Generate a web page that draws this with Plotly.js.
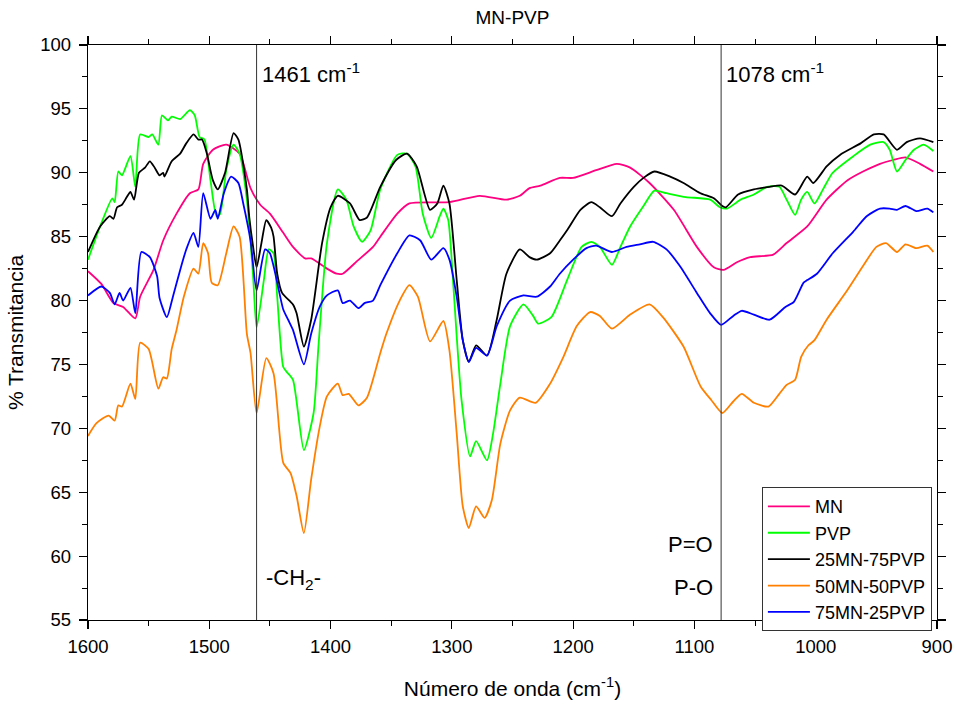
<!DOCTYPE html>
<html>
<head>
<meta charset="utf-8">
<script src="https://cdn.plot.ly/plotly-3.0.1.min.js"></script>
<style>html,body{margin:0;padding:0;background:#fff;}#chart{width:958px;height:704px;}</style>
</head>
<body>
<div id="chart"></div>
<script>
// ---- Data (wavenumber cm-1, % transmittance) ----
const seriesNames = ["MN", "PVP", "25MN-75PVP", "50MN-50PVP", "75MN-25PVP"];
const seriesColors = ["#ff0080", "#00ff00", "#000000", "#ff8000", "#0000ff"];

const mnX = [1600,1589,1579,1571,1561,1557,1546,1538,1527,1516,1509,1505,1497,1486,1475,1466,1458,1450,1439,1431,1421,1416,1403,1395,1390,1378,1365,1359,1345,1335,1302,1277,1255,1244,1236,1227,1211,1200,1181,1164,1153,1137,1117,1098,1084,1076,1065,1054,1035,1024,1007,991,974,961,947,936,926,914,903];
const mnY = [82.3,81.3,79.8,79.5,78.6,80.3,82.4,84.7,86.8,88.4,88.7,90.7,91.8,92.2,91.5,88.8,87.5,86.8,85.3,84.2,83.3,83.3,82.5,82.1,82.1,83.1,84.2,85.0,86.8,87.6,87.7,88.2,87.9,88.2,88.8,89.0,89.6,89.6,90.2,90.7,90.4,89.2,87.1,84.2,82.6,82.4,83.0,83.4,83.6,84.5,85.8,87.9,89.4,90.1,90.7,91.0,91.2,90.7,90.1];

const pvpX = [1600,1590,1580,1578,1575,1572,1565,1561,1557,1550,1547,1542,1539,1534,1531,1524,1516,1512,1508,1504,1499,1494,1491,1486,1480,1475,1469,1464,1461,1455,1451,1447,1444,1439,1436,1431,1422,1414,1410,1403,1394,1387,1381,1374,1367,1359,1345,1337,1330,1324,1317,1310,1307,1303,1299,1296,1292,1285,1280,1271,1266,1260,1252,1241,1233,1229,1218,1205,1193,1185,1178,1168,1161,1153,1142,1133,1123,1107,1087,1079,1073,1065,1062,1051,1040,1030,1024,1017,1012,1007,1001,994,986,969,955,944,939,933,926,919,911,903];
const pvpY = [83.2,85.8,88.0,87.7,90.1,89.8,91.3,88.9,93.0,92.8,93.0,92.2,94.5,94.1,94.4,94.2,94.9,94.5,92.8,92.6,89.4,86.6,86.8,90.2,92.2,91.5,87.9,82.1,77.9,81.6,84.0,83.7,80.3,74.8,74.4,73.8,68.3,71.2,76.4,84.5,88.7,87.9,85.8,84.6,85.5,88.7,91.4,91.5,90.5,86.8,84.9,86.6,87.2,86.3,81.5,77.2,72.2,67.8,69.0,67.5,69.6,73.5,78.0,79.7,78.8,78.2,78.7,81.6,84.2,84.6,84.2,82.8,84.2,85.8,87.4,88.6,88.4,88.1,87.9,87.3,87.2,87.7,87.9,88.3,88.9,88.9,87.9,86.7,87.9,88.5,87.6,88.7,90.0,91.3,92.2,92.4,91.8,90.1,91.0,91.8,92.2,91.7];

const m25X = [1600,1590,1582,1579,1576,1572,1568,1565,1562,1558,1553,1549,1545,1541,1538,1537,1531,1524,1519,1513,1509,1506,1502,1497,1493,1487,1480,1476,1469,1467,1464,1461,1457,1453,1449,1447,1444,1440,1433,1431,1428,1422,1416,1407,1400,1394,1384,1376,1370,1359,1346,1337,1329,1318,1312,1307,1302,1296,1291,1286,1280,1271,1263,1255,1244,1236,1230,1219,1211,1205,1194,1185,1178,1168,1161,1150,1142,1133,1120,1109,1095,1084,1077,1074,1064,1051,1038,1028,1017,1007,1002,991,980,963,952,944,933,925,914,903];
const m25Y = [83.8,85.8,86.6,86.4,87.3,87.5,88.1,88.5,87.9,90.0,90.4,90.9,90.4,89.8,90.0,89.7,90.9,91.5,92.3,93.0,92.6,92.6,91.5,89.4,88.7,90.0,93.1,92.6,88.7,86.5,84.3,82.6,84.5,86.3,85.7,85.0,82.1,80.6,79.9,79.7,79.0,76.4,78.5,84.5,87.3,88.2,87.6,86.3,86.5,88.9,91.0,91.5,90.5,87.1,87.6,89.0,87.6,81.6,76.9,75.2,76.5,75.7,78.5,82.1,84.0,83.4,83.2,83.7,84.7,85.5,87.1,87.7,87.3,86.6,87.6,88.9,89.6,90.1,89.7,89.2,88.4,88.0,87.4,87.3,88.3,88.7,88.9,89.0,88.3,89.7,89.2,90.5,91.4,92.3,93.0,93.0,91.8,92.4,92.7,92.4];

const m50X = [1600,1593,1583,1578,1575,1572,1565,1561,1557,1550,1542,1538,1535,1531,1527,1521,1513,1509,1505,1501,1498,1493,1486,1480,1475,1469,1466,1461,1453,1447,1439,1433,1428,1422,1416,1409,1403,1394,1390,1385,1377,1370,1359,1354,1343,1335,1328,1318,1307,1302,1296,1291,1286,1280,1273,1267,1260,1252,1244,1231,1219,1208,1197,1186,1178,1168,1153,1137,1126,1109,1095,1086,1077,1068,1061,1051,1039,1030,1024,1017,1012,1006,1001,991,974,961,950,942,933,926,917,908,903];
const m50Y = [69.4,70.4,71.0,70.6,71.8,71.7,73.5,72.3,76.7,76.2,73.1,74.0,73.9,76.2,77.7,80.3,82.5,82.1,84.5,83.7,81.4,81.2,83.7,85.8,85.0,77.4,75.9,71.2,75.5,74.3,67.3,66.5,64.7,61.8,66.0,70.1,72.5,73.5,72.6,72.7,71.8,72.4,75.9,77.4,80.0,81.2,80.3,76.8,78.4,76.1,69.6,63.9,62.2,63.9,63.0,64.4,68.8,71.4,72.4,72.0,73.5,75.6,78.0,79.1,78.8,77.8,78.9,79.7,78.7,76.4,73.3,72.2,71.2,72.1,72.7,72.0,71.7,72.7,73.4,73.8,75.6,76.5,76.9,78.5,80.8,82.7,84.2,84.5,83.8,84.4,84.1,84.3,83.8];

const m75X = [1600,1589,1582,1578,1574,1571,1565,1561,1556,1549,1543,1541,1535,1530,1524,1519,1513,1509,1505,1499,1495,1493,1488,1482,1476,1472,1466,1461,1454,1450,1439,1435,1431,1422,1416,1409,1403,1394,1390,1384,1377,1372,1365,1359,1345,1335,1326,1317,1307,1302,1296,1291,1286,1280,1271,1263,1252,1241,1230,1219,1211,1200,1189,1181,1168,1156,1145,1134,1123,1112,1098,1087,1078,1068,1061,1051,1038,1025,1018,1010,1007,999,986,969,958,947,939,933,926,917,908,903];
const m75Y = [80.4,81.1,80.6,79.7,80.6,80.0,81.0,79.0,83.8,83.4,81.9,80.2,78.7,80.3,82.4,84.0,85.3,84.2,88.4,86.4,87.1,86.4,88.4,89.7,89.2,87.6,84.7,80.8,84.0,83.7,79.3,78.5,77.7,75.0,77.4,79.5,80.4,80.8,79.8,80.0,79.4,79.8,80.0,81.2,83.7,85.1,84.7,83.2,84.1,83.2,80.3,76.9,75.2,76.3,75.7,78.0,80.0,80.4,80.3,81.1,82.1,83.2,84.1,84.3,83.8,84.2,84.4,84.6,84.0,82.7,80.6,79.0,78.1,78.8,79.2,78.9,78.5,79.5,79.9,81.4,81.6,82.1,83.7,85.4,86.6,87.2,87.2,87.1,87.4,87.0,87.2,86.9];

const xTickVals = [1600,1500,1400,1300,1200,1100,1000,900];
const yTickVals = [55,60,65,70,75,80,85,90,95,100];
const markerLines = [1461, 1078];

const xs = [mnX, pvpX, m25X, m50X, m75X];
const ys = [mnY, pvpY, m25Y, m50Y, m75Y];

const FONT = "Liberation Sans, Arial, sans-serif";

const traces = seriesNames.map((n, i) => ({
  type: "scatter", mode: "lines", name: n,
  x: xs[i], y: ys[i],
  line: {color: seriesColors[i], width: 1.8, shape: "spline", smoothing: 0.6}
}));

const axisCommon = {
  showline: true, linecolor: "#000", linewidth: 1.2, mirror: "allticks",
  ticks: "outside", ticklen: 8, tickwidth: 1.2, tickcolor: "#000",
  showgrid: false, zeroline: false,
  tickfont: {family: FONT, size: 18.5, color: "#000"},
  minor: {ticks: "outside", ticklen: 5, tickwidth: 1, tickcolor: "#000", showgrid: false}
};

const layout = {
  width: 958, height: 704,
  margin: {l: 88, r: 21, t: 45, b: 84},
  paper_bgcolor: "#fff", plot_bgcolor: "#fff",
  font: {family: FONT, color: "#000"},
  title: {text: "MN-PVP", font: {family: FONT, size: 19, color: "#000"}, xref: "paper", x: 0.5, xanchor: "center", y: 0.976, yanchor: "middle"},
  xaxis: Object.assign({}, axisCommon, {
    range: [1600, 900], tickvals: xTickVals, ticktext: xTickVals.map(String),
    ticklabelstandoff: 2,
    minor: Object.assign({}, axisCommon.minor, {dtick: 50, tick0: 0}),
    title: {text: "Número de onda (cm<sup>-1</sup>)", font: {family: FONT, size: 21, color: "#000"}, standoff: 24}
  }),
  yaxis: Object.assign({}, axisCommon, {
    range: [55, 100], tickvals: yTickVals, ticktext: yTickVals.map(String),
    ticklabelstandoff: 4,
    minor: Object.assign({}, axisCommon.minor, {dtick: 2.5, tick0: 0}),
    title: {text: "% Transmitancia", font: {family: FONT, size: 21, color: "#000"}, standoff: 10}
  }),
  showlegend: true,
  legend: {
    x: 0.994, xanchor: "right", y: 0.231, yanchor: "top",
    bgcolor: "#fff", bordercolor: "#333", borderwidth: 1,
    font: {family: FONT, size: 18, color: "#000"},
    traceorder: "normal", itemwidth: 42
  },
  shapes: markerLines.map(v => ({
    type: "line", xref: "x", yref: "paper", x0: v, x1: v, y0: 0, y1: 1,
    line: {color: "#333", width: 1}
  })),
  annotations: [
    {text: "1461 cm<sup>-1</sup>", xref: "x", yref: "paper", x: 1461, y: 0.951, xanchor: "left", yanchor: "middle", xshift: 3, showarrow: false, font: {family: FONT, size: 22, color: "#000"}},
    {text: "1078 cm<sup>-1</sup>", xref: "x", yref: "paper", x: 1078, y: 0.951, xanchor: "left", yanchor: "middle", xshift: 3, showarrow: false, font: {family: FONT, size: 22, color: "#000"}},
    {text: "-CH<sub>2</sub>-", xref: "x", yref: "paper", x: 1461, y: 0.072, xanchor: "left", yanchor: "middle", xshift: 7, showarrow: false, font: {family: FONT, size: 22, color: "#000"}},
    {text: "P=O", xref: "x", yref: "paper", x: 1078, y: 0.132, xanchor: "right", yanchor: "middle", xshift: -6, showarrow: false, font: {family: FONT, size: 22, color: "#000"}},
    {text: "P-O", xref: "x", yref: "paper", x: 1078, y: 0.056, xanchor: "right", yanchor: "middle", xshift: -6, showarrow: false, font: {family: FONT, size: 22, color: "#000"}}
  ]
};

Plotly.newPlot("chart", traces, layout, {displayModeBar: false, staticPlot: true});
</script>
</body>
</html>
